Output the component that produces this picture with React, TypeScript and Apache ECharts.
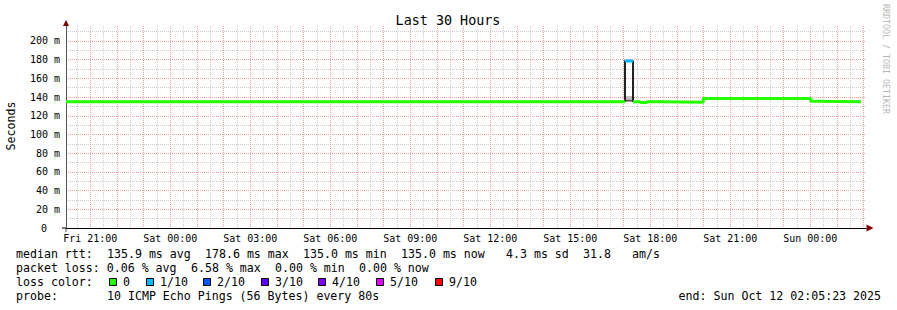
import React, { useEffect, useRef } from 'react';
import * as echarts from 'echarts';

// ---- time frame (hours counted from Fri Oct 10 00:00) ----
const startHour = 20 + 5 / 60 + 23 / 3600; // Fri 20:05:23
const spanHours = 30;
const endHour = startHour + spanHours; // Sun 02:05:23

// ---- axis ticks ----
const xTickHours = [21, 24, 27, 30, 33, 36, 39, 42, 45, 48];
const xTickLabels = [
  'Fri 21:00', 'Sat 00:00', 'Sat 03:00', 'Sat 06:00', 'Sat 09:00',
  'Sat 12:00', 'Sat 15:00', 'Sat 18:00', 'Sat 21:00', 'Sun 00:00',
];
const yTickValues = [0, 20, 40, 60, 80, 100, 120, 140, 160, 180, 200];
const yTickLabels = ['0', '20 m', '40 m', '60 m', '80 m', '100 m', '120 m', '140 m', '160 m', '180 m', '200 m'];
const yMax = 216;

// ---- median rtt (ms), loss 0 (green) segments ----
const greenStart = [startHour, 41.352, 41.615, 41.877, 42.402, 43.988, 48.015, 48.25];
const greenEnd = [41.052, 41.615, 41.877, 42.402, 43.988, 48.015, 48.25, 49.9];
const greenValue = [135.0, 135.0, 134.1, 135.0, 134.5, 138.6, 135.5, 135.0];

// ---- median rtt with 1/10 loss (spike) ----
const spikeStart = [41.052];
const spikeEnd = [41.352];
const spikeValue = [178.6];
const spikeBase = [135.0];

// ---- smoke inside the spike ----
const smokeFloor = [135.2];
const smokeLow = [137.0];
const smokeHigh = [141.0];

// ---- legend ----
const lossLabels = ['0', '1/10', '2/10', '3/10', '4/10', '5/10', '9/10'];
const lossColors = ['#26ff00', '#00b8ff', '#0059ff', '#5e00ff', '#7e00ff', '#dd00ff', '#ff0000'];
const rttStats = ['135.9', '178.6', '135.0', '135.0', '4.3', '31.8'];
const lossStats = ['0.06', '6.58', '0.00', '0.00'];
const probeText = '10 ICMP Echo Pings (56 Bytes) every 80s';
const endText = 'end: Sun Oct 12 02:05:23 2025';
const titleText = 'Last 30 Hours';
const yAxisTitle = 'Seconds';
const watermark = 'RRDTOOL / TOBI OETIKER';

const MONO = "'DejaVu Sans Mono', monospace";
const CW = 7; // legend character cell
const MAJOR = '#f4a0a0';
const MINOR = '#cccccc';
const DOT = [1, 1];

function tokens(line: string) {
  const out: { text: string; idx: number }[] = [];
  const re = /\S+(?: \S+)*/g;
  let m: RegExpExecArray | null;
  while ((m = re.exec(line)) !== null) out.push({ text: m[0], idx: m.index });
  return out;
}

function textEl(text: string, x: number, y: number, size: number, extra: any = {}) {
  return {
    type: 'text',
    x,
    y,
    rotation: extra.rotation || 0,
    silent: true,
    style: {
      text,
      x: 0,
      y: 0,
      fontFamily: MONO,
      fontSize: size,
      fill: extra.fill || '#000',
      align: extra.align || 'left',
      textAlign: extra.align || 'left',
      verticalAlign: 'middle',
      textVerticalAlign: 'middle',
    },
  };
}

function gridAxis(extra: any, color: string) {
  return {
    type: 'value',
    show: true,
    axisLine: { show: false },
    axisTick: { show: false },
    axisLabel: { show: false },
    splitLine: {
      show: true,
      showMinLine: false,
      showMaxLine: false,
      lineStyle: { color, type: DOT, width: 1 },
    },
    ...extra,
  };
}

export default function App() {
  const ref = useRef<HTMLDivElement>(null);

  useEffect(() => {
    document.body.style.margin = '0';
    if (!ref.current) return;
    const chart = echarts.init(ref.current, undefined, { renderer: 'svg' });

    // median line data with explicit steps
    const greenData: any[] = [];
    for (let i = 0; i < greenStart.length; i++) {
      if (i > 0 && greenStart[i] !== greenEnd[i - 1]) greenData.push([greenEnd[i - 1], null]);
      greenData.push([greenStart[i], greenValue[i]]);
      greenData.push([greenEnd[i], greenValue[i]]);
    }
    const cyanData: any[] = [];
    const outlineData: any[] = [];
    const smokeAreas: any[] = [];
    for (let i = 0; i < spikeStart.length; i++) {
      cyanData.push([spikeStart[i], spikeValue[i]], [spikeEnd[i], spikeValue[i]]);
      outlineData.push(
        [spikeStart[i], spikeBase[i]], [spikeStart[i], spikeValue[i]],
        [spikeEnd[i], spikeValue[i]], [spikeEnd[i], spikeBase[i]],
      );
      smokeAreas.push([
        { xAxis: spikeStart[i], yAxis: smokeLow[i], itemStyle: { color: '#c4b8b8' } },
        { xAxis: spikeEnd[i], yAxis: smokeHigh[i] },
      ]);
      smokeAreas.push([
        { xAxis: spikeStart[i], yAxis: smokeFloor[i], itemStyle: { color: '#555555' } },
        { xAxis: spikeEnd[i], yAxis: smokeLow[i] },
      ]);
    }

    const graphics: any[] = [];
    graphics.push(textEl(titleText, 448, 20, 13.4, { align: 'center' }));
    graphics.push(textEl(yAxisTitle, 11, 126, 11.6, { align: 'center', rotation: Math.PI / 2 }));
    graphics.push(textEl(watermark, 886, 59, 8.3, { align: 'center', rotation: -Math.PI / 2, fill: '#b8b8b8' }));

    const line1 = `median rtt:  ${rttStats[0]} ms avg  ${rttStats[1]} ms max  ${rttStats[2]} ms min  ${rttStats[3]} ms now  ${rttStats[4].padStart(4)} ms sd  ${rttStats[5]}   am/s`;
    const line2 = `packet loss: ${lossStats[0]} % avg  ${lossStats[1]} % max  ${lossStats[2]} % min  ${lossStats[3]} % now`;
    const line3 = 'loss color:';
    const line4 = `probe:       ${probeText}`;
    const rows = [line1, line2, line3, line4];
    const rowY = [254, 268, 282, 296];
    rows.forEach((ln, r) => {
      tokens(ln).forEach((t) => graphics.push(textEl(t.text, 16 + t.idx * CW, rowY[r], 11.6)));
    });
    const boxX = [109, 146, 203, 261, 318, 376, 435];
    lossLabels.forEach((lbl, i) => {
      graphics.push({
        type: 'rect',
        silent: true,
        shape: { x: boxX[i] + 0.5, y: 278.5, width: 7, height: 7 },
        style: { fill: lossColors[i], stroke: '#000', lineWidth: 1 },
      });
      graphics.push(textEl(lbl, boxX[i] + 14, rowY[2], 11.6));
    });
    graphics.push(textEl(endText, 881, rowY[3], 11.6, { align: 'right' }));

    const axisFont = { fontFamily: MONO, fontSize: 10, color: '#000' };

    // helper grid aligned to whole half-hours for the vertical grid lines
    const pxPerHour = 800 / spanHours;
    const gridMin = Math.floor(startHour);
    const gridMax = Math.ceil(endHour * 2) / 2;
    const grid1Left = 66 - (startHour - gridMin) * pxPerHour;
    const grid1Width = (gridMax - gridMin) * pxPerHour;

    chart.setOption({
      animation: false,
      backgroundColor: '#ffffff',
      textStyle: { fontFamily: MONO },
      grid: [
        { left: 66, top: 26, width: 800, height: 202, containLabel: false },
        { left: grid1Left, top: 26, width: grid1Width, height: 202, containLabel: false },
      ],
      xAxis: [
        {
          type: 'value',
          gridIndex: 0,
          min: startHour,
          max: endHour,
          axisLine: {
            show: true, onZero: false,
            symbol: ['rect', 'none'], symbolSize: [1, 4], symbolOffset: [-2, 0],
            lineStyle: { color: '#000', width: 1 },
          },
          axisTick: { show: false },
          splitLine: { show: false },
          axisLabel: {
            ...axisFont,
            margin: 5,
            customValues: xTickHours,
            formatter: (v: number) => {
              const i = xTickHours.findIndex((h) => Math.abs(h - v) < 1e-6);
              return i >= 0 ? xTickLabels[i] : '';
            },
          },
        },
        {
          type: 'value',
          gridIndex: 0,
          position: 'bottom',
          min: startHour,
          max: endHour,
          axisLine: {
            show: true, onZero: false,
            symbol: ['none', 'triangle'], symbolSize: [7, 7], symbolOffset: [0, 4],
            lineStyle: { color: '#7f0000', width: 0 },
          },
          axisTick: { show: false },
          splitLine: { show: false },
          axisLabel: { show: false },
        },
        gridAxis({ gridIndex: 1, position: 'bottom', min: gridMin, max: gridMax, interval: 0.5 }, MINOR),
        gridAxis({ gridIndex: 1, position: 'bottom', min: gridMin, max: gridMax, interval: 1 }, MAJOR),
      ],
      yAxis: [
        {
          type: 'value',
          gridIndex: 0,
          min: 0,
          max: yMax,
          interval: 10,
          axisLine: {
            show: true, onZero: false,
            symbol: ['rect', 'none'], symbolSize: [1, 4], symbolOffset: [-2, 0],
            lineStyle: { color: '#555555', width: 1 },
          },
          axisTick: { show: false },
          splitLine: {
            show: true, showMinLine: false, showMaxLine: false,
            lineStyle: { color: MINOR, type: DOT, width: 1 },
          },
          axisLabel: {
            ...axisFont,
            margin: 6,
            customValues: yTickValues,
            formatter: (v: number) => {
              const i = yTickValues.findIndex((t) => Math.abs(t - v) < 1e-6);
              if (i < 0) return '';
              return v === 0 ? `{z|${yTickLabels[i]}}` : yTickLabels[i];
            },
            rich: { z: { ...axisFont, padding: [0, 13, 0, 0] } },
          },
        },
        {
          type: 'value',
          gridIndex: 0,
          position: 'left',
          min: 0,
          max: yMax,
          interval: 20,
          axisLine: {
            show: true, onZero: false,
            symbol: ['none', 'triangle'], symbolSize: [6, 6], symbolOffset: [0, 3],
            lineStyle: { color: '#7f0000', width: 0 },
          },
          axisTick: { show: false },
          splitLine: {
            show: true, showMinLine: false, showMaxLine: false,
            lineStyle: { color: MAJOR, type: DOT, width: 1 },
          },
          axisLabel: { show: false },
        },
        {
          type: 'value',
          gridIndex: 1,
          show: false,
          min: 0,
          max: yMax,
        },
      ],
      series: [
        {
          name: 'median rtt',
          type: 'line',
          xAxisIndex: 0,
          yAxisIndex: 0,
          data: greenData,
          symbol: 'none',
          connectNulls: false,
          z: 4,
          silent: true,
          lineStyle: { color: lossColors[0], width: 3 },
        },
        {
          name: 'smoke outline',
          type: 'line',
          xAxisIndex: 0,
          yAxisIndex: 0,
          data: outlineData,
          symbol: 'none',
          z: 3,
          silent: true,
          lineStyle: { color: '#222222', width: 2 },
          markArea: {
            silent: true,
            z: 2,
            emphasis: { disabled: true },
            data: smokeAreas,
          },
        },
        {
          name: 'loss 1/10',
          type: 'line',
          xAxisIndex: 0,
          yAxisIndex: 0,
          data: cyanData,
          symbol: 'none',
          z: 5,
          silent: true,
          lineStyle: { color: lossColors[1], width: 3 },
        },
      ],
      graphic: graphics,
    });

    return () => chart.dispose();
  }, []);

  return <div ref={ref} style={{ width: 897, height: 310 }} />;
}
